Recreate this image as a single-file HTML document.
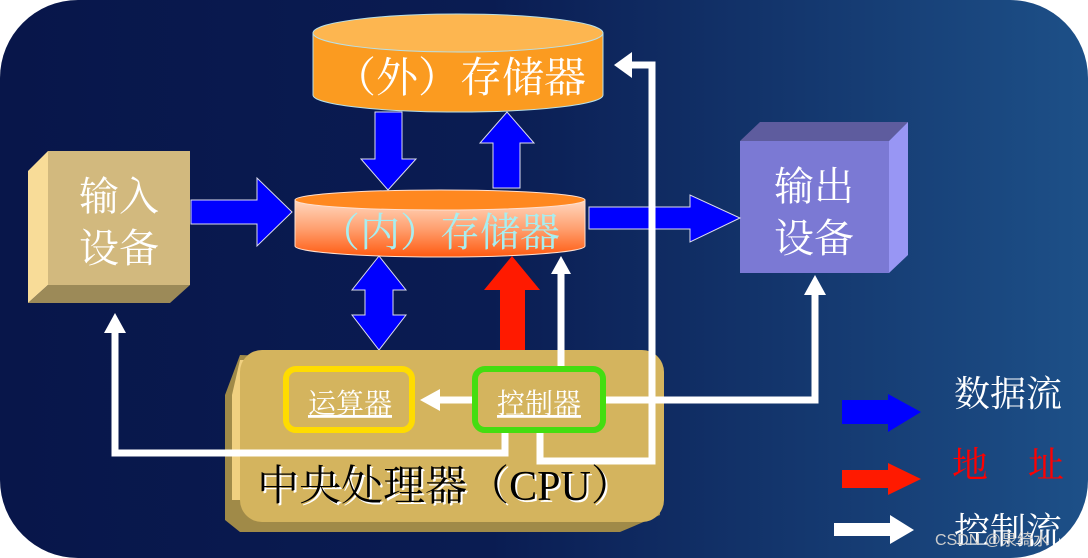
<!DOCTYPE html>
<html><head><meta charset="utf-8"><style>
html,body{margin:0;padding:0;background:#fff;}
svg{display:block;}
text{font-family:"Liberation Serif","Noto Serif CJK SC","Noto Sans CJK SC",serif;}
</style></head><body>
<svg width="1088" height="558" viewBox="0 0 1088 558" xmlns="http://www.w3.org/2000/svg">
<defs>
<linearGradient id="bg" x1="0" y1="0" x2="1" y2="0">
<stop offset="0" stop-color="#08164a"/><stop offset="0.45" stop-color="#0a1c52"/><stop offset="1" stop-color="#1d5088"/>
</linearGradient>
<linearGradient id="inner" x1="0" y1="0" x2="0" y2="1">
<stop offset="0" stop-color="#ffd8c0"/><stop offset="0.5" stop-color="#ffa070"/><stop offset="1" stop-color="#ff5a10"/>
</linearGradient>
</defs>
<rect x="0" y="0" width="1088" height="558" rx="78" fill="url(#bg)"/>

<!-- external storage -->
<path d="M313,33 L313,95 A145,17 0 0 0 603,95 L603,33 Z" fill="#fb9b20" stroke="#b8e0e8" stroke-width="1"/>
<ellipse cx="458" cy="33" rx="145" ry="19" fill="#fdb650" stroke="#b8e0e8" stroke-width="1"/>
<text x="460" y="92" font-size="42" fill="#fff" text-anchor="middle">（外）存储器</text>

<!-- inner storage -->
<path d="M295,200 L295,246 A145,11 0 0 0 585,246 L585,200 Z" fill="url(#inner)" stroke="#ffe0d0" stroke-width="1"/>
<ellipse cx="440" cy="200" rx="145" ry="10" fill="#ff8820" stroke="#ffe0d0" stroke-width="1"/>
<text x="440" y="246" font-size="40" fill="#a8eef0" text-anchor="middle">（内）存储器</text>

<!-- input device -->
<polygon points="28,171 48,151 48,285 28,303" fill="#f8dc98"/>
<polygon points="28,303 48,285 190,285 170,303" fill="#9c8a58"/>
<rect x="48" y="151" width="142" height="134" fill="#d2b97e"/>
<text x="119" y="210" font-size="40" fill="#fff" text-anchor="middle">输入</text>
<text x="119" y="262" font-size="40" fill="#fff" text-anchor="middle">设备</text>

<!-- output device -->
<polygon points="740,141 760,122 908,122 889,141" fill="#5e5c9e"/>
<polygon points="889,141 908,122 908,255 889,273" fill="#9896f4"/>
<rect x="740" y="141" width="149" height="132" fill="#7b79d4"/>
<text x="814" y="200" font-size="40" fill="#fff" text-anchor="middle">输出</text>
<text x="814" y="252" font-size="40" fill="#fff" text-anchor="middle">设备</text>

<!-- blue arrows -->
<polygon points="191,200 257,200 257,178 292,212 257,246 257,224 191,224" fill="#0000ff" stroke="#dde" stroke-width="1"/>
<polygon points="589,207 690,207 690,195 740,218 690,242 690,229 589,229" fill="#0000ff" stroke="#dde" stroke-width="1"/>
<polygon points="375,112 402,112 402,159 416,159 388,190 361,159 375,159" fill="#0000ff" stroke="#dde" stroke-width="1"/>
<polygon points="493,188 520,188 520,143 534,143 507,112 480,143 493,143" fill="#0000ff" stroke="#dde" stroke-width="1"/>
<polygon points="379,256 406,290 393,290 393,315 406,315 379,350 352,315 365,315 365,290 352,290" fill="#0000ff" stroke="#dde" stroke-width="1"/>
<!-- red arrow -->
<polygon points="500,350 525,350 525,290 540,290 512,256 484,290 500,290" fill="#ff1a00"/>

<!-- CPU -->
<polygon points="240,355 225,395 225,520 240,532 620,532 660,515 660,370" fill="#a08a48"/>
<path d="M232,395 L240,360 L250,360 L250,500 L232,500 Z" fill="#f0d080"/>
<rect x="240" y="350" width="424" height="172" rx="22" fill="#d4b45e"/>

<!-- white control lines -->
<g fill="none" stroke="#fff" stroke-width="7">
<polyline points="540,432 540,461 652,461 652,65 628,65"/>
<polyline points="505,432 505,453 115,453 115,330"/>
<polyline points="606,400 815,400 815,292"/>
<line x1="561" y1="368" x2="561" y2="270"/>
<line x1="472" y1="400" x2="436" y2="400"/>
</g>
<polygon points="614,65 632,52 632,78" fill="#fff"/>
<polygon points="115,313 104,333 126,333" fill="#fff"/>
<polygon points="815,275 804,295 826,295" fill="#fff"/>
<polygon points="561,256 551,274 571,274" fill="#fff"/>
<polygon points="420,400 440,389 440,411" fill="#fff"/>

<rect x="286" y="369" width="126" height="61" rx="10" fill="none" stroke="#ffdc00" stroke-width="6"/>
<rect x="475" y="369" width="128" height="61" rx="10" fill="none" stroke="#44dd11" stroke-width="6"/>
<text x="350" y="413" font-size="28" fill="#fff" text-anchor="middle" text-decoration="underline">运算器</text>
<text x="539" y="413" font-size="28" fill="#fff" text-anchor="middle" text-decoration="underline">控制器</text>
<text x="447" y="502" font-size="42" fill="#fff" text-anchor="middle">中央处理器（CPU）</text>
<text x="445" y="500" font-size="42" fill="#000" text-anchor="middle">中央处理器（CPU）</text>

<!-- legend -->
<polygon points="842,400 888,400 888,394 921,412 888,432 888,424 842,424" fill="#0000ff"/>
<polygon points="842,470 888,470 888,463 921,479 888,495 888,488 842,488" fill="#ff1a00"/>
<polygon points="834,523 890,523 890,515 914,530 890,544 890,536 834,536" fill="#fff"/>
<text x="1008" y="406" font-size="36" fill="#fff" text-anchor="middle">数据流</text>
<text x="970" y="477" font-size="36" fill="#ff0000" text-anchor="middle">地</text>
<text x="1046" y="477" font-size="36" fill="#ff0000" text-anchor="middle">址</text>
<text x="1008" y="543" font-size="36" fill="#fff" text-anchor="middle">控制流</text>
<text x="935" y="545" font-size="16" fill="#ccc" style="font-family:'Liberation Sans','Noto Sans CJK SC',sans-serif">CSDN @泉绮水</text>
</svg>
</body></html>
